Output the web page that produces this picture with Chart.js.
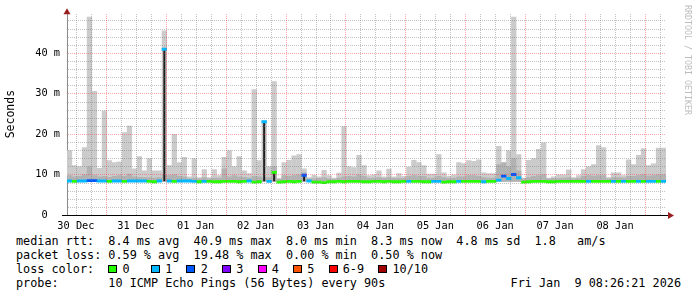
<!DOCTYPE html>
<html>
<head>
<meta charset="utf-8">
<script src="https://cdn.jsdelivr.net/npm/chart.js@4.4.1/dist/chart.umd.min.js"></script>
<style>
html, body { margin: 0; padding: 0; background: #fff; }
#wrap { position: relative; width: 697px; height: 297px; overflow: hidden; background: #fff; }
#box { position: absolute; left: 0; top: 0; width: 697px; height: 232px; }
.leg { position: absolute; left: 16px; top: 234px; margin: 0; font: 11.8px/14px "DejaVu Sans Mono", monospace; color: #000; white-space: pre; }
.sw { display: inline-block; width: 2ch; }
.sw i { display: inline-block; width: 7px; height: 6px; border: 1px solid #000; }
#date { position: absolute; right: 16px; top: 276px; margin: 0; font: 11.8px/14px "DejaVu Sans Mono", monospace; color: #000; white-space: pre; }
</style>
</head>
<body>
<div id="wrap">
  <div id="box"><canvas id="smoke" width="697" height="232"></canvas></div>
  <pre class="leg" id="legend"></pre>
  <pre id="date">Fri Jan  9 08:26:21 2026</pre>
</div>
<script>
// day labels on the time axis (shown at noon of each day)
const dayLabels = ['30 Dec', '31 Dec', '01 Jan', '02 Jan', '03 Jan', '04 Jan', '05 Jan', '06 Jan', '07 Jan', '08 Jan'];

// graph covers 10 days ending Fri Jan 9 08:26, hours counted from 30 Dec 00:00
const startHour = 8.43;
const spanHours = 240;
const slotHours = 2;

// top of the smoke (max rtt per 2h slot), ms
const smokeMax = [
  16.0, 12.3, 12.0, 16.7, 48.9, 30.6, 11.6, 25.7, 13.5, 13.0, 13.2, 20.4,
  22.0, 11.5, 14.5, 11.0, 14.0, 11.0, 11.0, 45.5, 12.3, 20.0, 13.0, 14.3,
  9.5, 14.0, 9.3, 11.3, 9.3, 11.3, 9.8, 14.3, 16.0, 12.0, 14.5, 11.0,
  10.3, 31.0, 13.5, 23.3, 12.0, 33.0, 9.0, 13.0, 13.6, 14.7, 15.0, 11.5,
  9.3, 9.9, 9.5, 11.1, 9.8, 9.2, 10.4, 21.9, 12.0, 11.8, 14.8, 12.3,
  9.8, 10.0, 11.0, 9.5, 11.4, 9.5, 10.3, 9.6, 11.9, 13.6, 13.0, 12.3,
  10.2, 10.2, 15.0, 10.5, 9.7, 10.0, 13.0, 12.8, 13.5, 13.3, 13.7, 10.5,
  10.3, 10.3, 17.0, 12.3, 16.0, 48.9, 15.0, 9.2, 13.6, 14.0, 16.3, 17.9,
  9.2, 9.5, 10.0, 10.0, 11.2, 9.3, 9.8, 11.3, 12.0, 12.5, 17.2, 16.7,
  9.3, 10.5, 10.5, 9.8, 13.7, 12.5, 14.8, 16.5, 12.3, 12.7, 16.6, 16.6
];

// denser inner smoke, ms
const smokeInner = [
  9.8, 9.5, 9.6, 10.0, 12.0, 9.8, 9.5, 9.6, 9.4, 9.6, 9.8, 9.6,
  10.2, 9.5, 9.4, 9.3, 9.3, 9.2, 9.3, 10.0, 9.8, 10.0, 9.6, 9.5,
  9.0, 9.2, 9.0, 9.3, 9.0, 9.2, 9.2, 11.5, 9.5, 9.8, 9.5, 9.4,
  9.2, 9.6, 9.5, 9.3, 9.3, 12.0, 9.0, 9.8, 9.6, 9.8, 10.0, 10.5,
  9.0, 9.0, 9.1, 9.3, 9.0, 8.9, 9.2, 9.5, 9.6, 9.5, 10.0, 9.6,
  9.2, 9.2, 9.3, 9.1, 9.3, 9.1, 9.2, 9.1, 9.6, 9.8, 9.7, 9.6,
  9.2, 9.2, 9.6, 9.3, 9.1, 9.2, 9.5, 9.5, 9.8, 9.8, 9.6, 9.3,
  9.2, 9.2, 12.5, 13.0, 12.0, 14.0, 11.0, 9.0, 9.4, 9.6, 9.8, 10.0,
  9.0, 9.1, 9.1, 9.2, 9.3, 9.0, 9.1, 9.6, 9.8, 9.7, 9.8, 9.8,
  9.0, 9.3, 9.3, 9.2, 9.6, 9.6, 9.8, 10.0, 9.7, 9.8, 10.0, 10.0
];

// median rtt per slot, ms
const median = [
  8.4, 8.3, 8.4, 8.4, 8.5, 8.5, 8.4, 8.4, 8.3, 8.4, 8.4, 8.3,
  8.4, 8.4, 8.4, 8.4, 8.3, 8.2, 8.4, 40.9, 8.4, 8.3, 8.4, 8.4,
  8.4, 8.3, 8.2, 8.3, 8.3, 8.2, 8.2, 8.3, 8.3, 8.3, 8.2, 8.3,
  8.4, 8.1, 8.2, 23.0, 8.3, 10.5, 8.1, 8.2, 8.3, 8.2, 8.3, 9.8,
  8.4, 8.1, 8.1, 8.0, 8.2, 8.2, 8.3, 8.2, 8.3, 8.3, 8.3, 8.2,
  8.2, 8.3, 8.3, 8.2, 8.3, 8.2, 8.2, 8.3, 8.3, 8.3, 8.3, 8.2,
  8.2, 8.3, 8.3, 8.1, 8.2, 8.2, 8.3, 8.3, 8.3, 8.3, 8.3, 8.2,
  8.3, 8.3, 8.6, 9.6, 9.0, 10.0, 9.2, 8.1, 8.2, 8.3, 8.3, 8.3,
  8.2, 8.2, 8.3, 8.3, 8.3, 8.3, 8.3, 8.3, 8.3, 8.3, 8.3, 8.3,
  8.3, 8.3, 8.3, 8.3, 8.3, 8.3, 8.3, 8.3, 8.3, 8.3, 8.3, 8.3
];

// lost pings (of 10) per slot
const loss = [
  1, 0, 1, 1, 2, 2, 1, 1, 0, 1, 1, 0, 1, 1, 1, 1, 0, 0, 1, 1, 1, 0, 1, 1,
  1, 1, 0, 1, 0, 0, 0, 0, 0, 0, 0, 0, 1, 0, 0, 1, 1, 0, 0, 0, 0, 0, 0, 2,
  1, 0, 0, 0, 0, 0, 0, 0, 0, 0, 0, 0, 0, 0, 0, 0, 0, 0, 0, 0, 1, 0, 0, 0,
  0, 1, 1, 0, 0, 0, 1, 0, 0, 0, 0, 1, 0, 0, 1, 2, 1, 2, 1, 0, 0, 0, 0, 0,
  0, 0, 0, 0, 0, 0, 0, 0, 1, 0, 0, 0, 0, 1, 0, 1, 0, 0, 1, 0, 1, 1, 0, 1
];

// median jumps drawn as dark columns
const spikeSlots = [19, 39, 41, 47];
const spikeValues = [40.9, 23.0, 10.5, 9.8];

const lossLabels = ['0', '1', '2', '3', '4', '5', '6-9', '10/10'];
const lossColors = ['#26ff00', '#00b8ff', '#0059ff', '#7e00ff', '#ff00ff', '#ff5500', '#ff0000', '#a10000'];

const smokeBase = 8.2;
const spikeBase = 8.3;
const medianHalf = 0.35;

const slotX = i => startHour + slotHours * (i + 0.5);

const mono = 'DejaVu Sans Mono';
const gridGray = 'rgba(120,120,120,0.45)';
const gridRed = 'rgba(255,40,40,0.4)';
const clear = 'rgba(0,0,0,0)';

// dotted rrdtool-style grid, placed with the chart's own scales
const dottedGrid = {
  id: 'dottedGrid',
  afterDatasetsDraw(chart) {
    const ctx = chart.ctx;
    const a = chart.chartArea;
    const xs = chart.scales.x, ys = chart.scales.y;
    ctx.save();
    ys.ticks.forEach(t => {
      if (t.value === 0) return;
      const py = Math.round(ys.getPixelForValue(t.value));
      ctx.fillStyle = t.value % 10 === 0 ? gridRed : gridGray;
      for (let px = Math.ceil(a.left) + 1; px < a.right; px += 2) ctx.fillRect(px, py, 1, 1);
    });
    xs.ticks.forEach(t => {
      const px = Math.round(xs.getPixelForValue(t.value));
      ctx.fillStyle = t.value % 24 === 0 ? gridRed : gridGray;
      for (let py = Math.ceil(a.top); py < a.bottom; py += 2) ctx.fillRect(px, py, 1, 1);
    });
    ctx.restore();
  },
  afterDraw(chart) {
    const ctx = chart.ctx;
    const a = chart.chartArea;
    ctx.save();
    ctx.fillStyle = '#000';
    ctx.fillRect(Math.round(a.left) - 5, Math.round(a.bottom), Math.round(a.right) - Math.round(a.left) + 8, 1);
    ctx.fillStyle = '#982020';
    ctx.beginPath();
    ctx.moveTo(a.left - 3.5, a.top + 1);
    ctx.lineTo(a.left + 3.5, a.top + 1);
    ctx.lineTo(a.left, a.top - 5);
    ctx.closePath();
    ctx.fill();
    ctx.beginPath();
    ctx.moveTo(a.right + 2, a.bottom - 3);
    ctx.lineTo(a.right + 2, a.bottom + 4);
    ctx.lineTo(a.right + 8, a.bottom + 0.5);
    ctx.closePath();
    ctx.fill();
    ctx.fillStyle = '#bdbdbd';
    ctx.font = '8.3px "' + mono + '"';
    ctx.textBaseline = 'middle';
    ctx.textAlign = 'left';
    ctx.translate(687.5, 5);
    ctx.rotate(Math.PI / 2);
    ctx.fillText('RRDTOOL / TOBI OETIKER', 0, 0);
    ctx.restore();
  }
};

new Chart(document.getElementById('smoke'), {
  type: 'bar',
  data: {
    datasets: [{
      label: 'smoke',
      data: smokeMax.map((v, i) => ({x: slotX(i), y: v})),
      base: smokeBase,
      backgroundColor: '#cbcbcb',
      barThickness: 5.3,
      order: 4
    }, {
      label: 'inner',
      data: smokeInner.map((v, i) => ({x: slotX(i), y: v})),
      base: smokeBase,
      backgroundColor: '#b2b2b2',
      barThickness: 5.3,
      order: 3
    }, {
      label: 'jump',
      data: spikeSlots.map((s, k) => ({x: slotX(s), y: [spikeBase, spikeValues[k]]})),
      backgroundColor: '#1e1e1e',
      barThickness: 2,
      order: 2
    }, {
      label: 'median',
      data: median.map((v, i) => ({x: slotX(i), y: [v - medianHalf, v + medianHalf]})),
      backgroundColor: loss.map(l => lossColors[l]),
      barThickness: 5.3,
      order: 1
    }]
  },
  options: {
    responsive: false,
    animation: false,
    devicePixelRatio: 1,
    layout: {padding: {left: 0, right: 31, top: 12, bottom: 0}},
    datasets: {bar: {grouped: false, borderWidth: 0, inflateAmount: 0}},
    plugins: {legend: {display: false}, tooltip: {enabled: false}},
    scales: {
      x: {
        type: 'linear',
        offset: false,
        min: startHour,
        max: startHour + spanHours,
        afterBuildTicks: s => {
          const t = [];
          for (let h = 12; h <= startHour + spanHours; h += 6) t.push({value: h});
          s.ticks = t;
        },
        afterFit: s => { s.height = 17; },
        grid: {display: true, offset: false, drawTicks: false, color: clear},
        border: {display: true, color: clear},
        ticks: {
          autoSkip: false,
          maxRotation: 0,
          minRotation: 0,
          padding: 5,
          color: '#000',
          font: {family: mono, size: 10.3},
          callback: v => (v % 24 === 12) ? dayLabels[(v - 12) / 24] : ''
        }
      },
      y: {
        min: 0,
        max: 49.8,
        afterBuildTicks: s => {
          const t = [];
          for (let v = 0; v <= 48; v += 2) t.push({value: v});
          s.ticks = t;
        },
        afterFit: s => { s.width = 67; },
        grid: {display: true, drawTicks: false, color: clear},
        border: {display: true, color: '#8a8a8a', width: 1},
        ticks: {
          autoSkip: false,
          padding: 7,
          color: '#000',
          font: {family: mono, size: 10.3},
          callback: v => v === 0 ? '0  ' : (v % 10 === 0 ? v + ' m' : '')
        },
        title: {
          display: true,
          text: 'Seconds',
          color: '#000',
          font: {family: mono, size: 11.5},
          padding: {top: 4, bottom: 0}
        }
      }
    }
  },
  plugins: [dottedGrid]
});

// text legend under the graph
const cols = ['median rtt:  8.4 ms avg  40.9 ms max  8.0 ms min  8.3 ms now  4.8 ms sd  1.8   am/s',
  'packet loss: 0.59 % avg  19.48 % max  0.00 % min  0.50 % now'];
let swatches = 'loss color:  ';
lossLabels.forEach((l, i) => {
  swatches += '<span class="sw"><i style="background:' + lossColors[i] + '"></i></span>' + l + (i === 0 ? '   ' : '  ');
});
document.getElementById('legend').innerHTML = cols.join('\n') + '\n' + swatches + '\nprobe:       10 ICMP Echo Pings (56 Bytes) every 90s';
</script>
</body>
</html>
